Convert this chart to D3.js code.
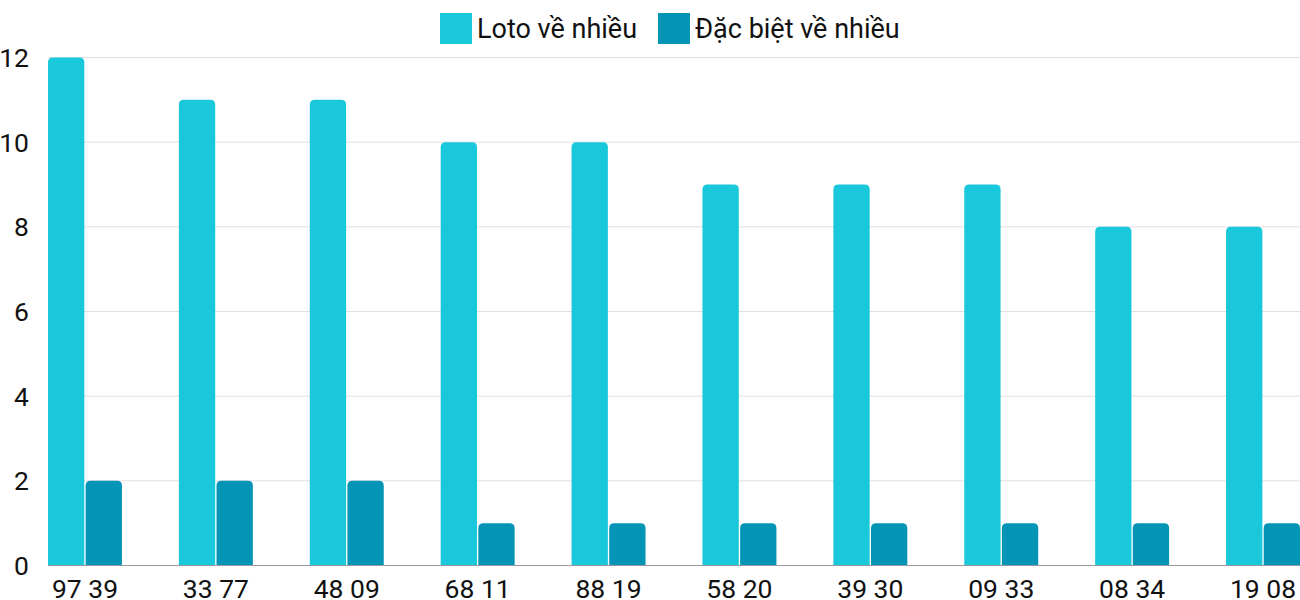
<!DOCTYPE html>
<html><head><meta charset="utf-8">
<script src="https://cdn.jsdelivr.net/npm/d3@7/dist/d3.min.js"></script>
<style>body{margin:0;background:#fff;font-family:Roboto,"Noto Sans",sans-serif}</style>
</head><body><svg id="c" width="1300" height="600"></svg>
<script>
const categories = ["97 39","33 77","48 09","68 11","88 19","58 20","39 30","09 33","08 34","19 08"];
const lotoValues = [12,11,11,10,10,9,9,9,8,8];
const dacBietValues = [2,2,2,1,1,1,1,1,1,1];
const seriesNames = ["Loto về nhiều","Đặc biệt về nhiều"];
const seriesColors = ["#1ac8db","#0494b6"];
const yTicks = [0,2,4,6,8,10,12];

(function(){
const svg = d3.select("#c");
const mLeft = 48, mRight = 1300, mTop = 57.5, mBottom = 565.5;
const x = d3.scaleBand().domain(categories).range([mLeft,mRight]).paddingInner(0.435).paddingOuter(0);
const xs = d3.scaleBand().domain([0,1]).range([0,x.bandwidth()]).paddingInner(0.035);
const y = d3.scaleLinear().domain([0,12]).range([mBottom,mTop]);

svg.append("g").selectAll("line").data(yTicks.filter(d=>d>0)).join("line")
  .attr("x1",mLeft).attr("x2",mRight).attr("y1",d=>y(d)).attr("y2",d=>y(d))
  .attr("stroke","#e0e0e0").attr("stroke-width",1);

svg.append("g").selectAll("text").data(yTicks).join("text")
  .attr("x",29).attr("y",d=>y(d)).attr("dy","0.36em").attr("text-anchor","end")
  .attr("font-size",26.5).attr("fill","#111").text(d=>d);

const data = categories.map((c,i)=>({c, v:[lotoValues[i],dacBietValues[i]]}));
function roundTop(x0,y0,w,h,r){
  r=Math.min(r,h,w/2);
  return `M${x0},${y0+h}V${y0+r}Q${x0},${y0} ${x0+r},${y0}H${x0+w-r}Q${x0+w},${y0} ${x0+w},${y0+r}V${y0+h}Z`;
}
const g = svg.append("g").selectAll("g").data(data).join("g").attr("transform",d=>`translate(${x(d.c)},0)`);
g.selectAll("path").data(d=>d.v.map((v,k)=>({v,k}))).join("path")
  .attr("d",d=>roundTop(xs(d.k),y(d.v),xs.bandwidth(),mBottom-y(d.v),5))
  .attr("fill",d=>seriesColors[d.k]);

svg.append("line").attr("x1",mLeft).attr("x2",mRight).attr("y1",mBottom).attr("y2",mBottom)
  .attr("stroke","#999").attr("stroke-width",1);

svg.append("g").selectAll("text").data(categories).join("text")
  .attr("x",d=>x(d)+x.bandwidth()/2).attr("y",598).attr("text-anchor","middle")
  .attr("font-size",26.5).attr("fill","#111").text(d=>d);

const legend = svg.append("g");
const lx = [440,658];
seriesNames.forEach((n,i)=>{
  legend.append("rect").attr("x",lx[i]).attr("y",13).attr("width",32).attr("height",31).attr("fill",seriesColors[i]);
  legend.append("text").attr("x",lx[i]+37).attr("y",38).attr("font-size",27).attr("fill","#111").text(n);
});
})();
</script></body></html>
